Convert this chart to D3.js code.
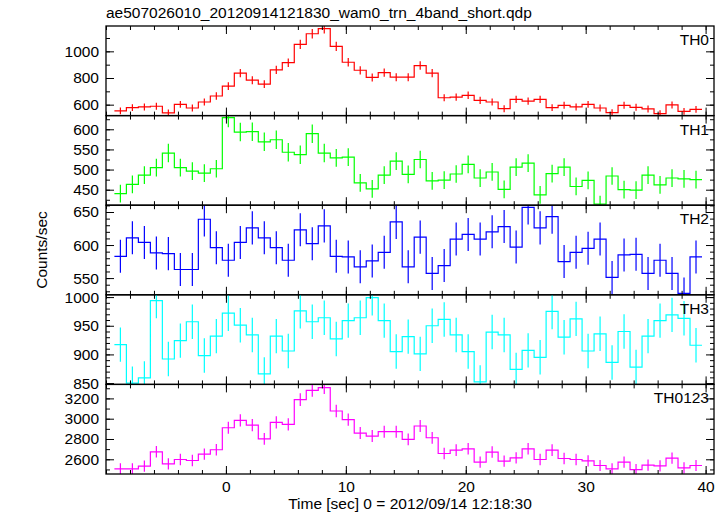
<!DOCTYPE html>
<html><head><meta charset="utf-8">
<script src="https://cdn.jsdelivr.net/npm/d3@7"></script>
<style>
body{margin:0;background:#fff}
svg{display:block}
text{font-family:"Liberation Sans",Arial,Helvetica,sans-serif;fill:#000}
</style>
</head><body>
<svg id="chart" width="728" height="516"></svg>
<script>
// ---- data ----
const title = "ae507026010_20120914121830_wam0_trn_4band_short.qdp";
const xLabel = "Time [sec] 0 = 2012/09/14 12:18:30";
const yLabel = "Counts/sec";
const panelNames = ["TH0","TH1","TH2","TH3","TH0123"];

const time = [-8.8,-7.8,-6.8,-5.8,-4.8,-3.8,-2.8,-1.8,-0.8,0.2,1.2,2.2,3.2,4.2,5.2,6.2,7.2,8.2,9.2,10.2,
  11.2,12.2,13.2,14.2,15.2,16.2,17.2,18.2,19.2,20.2,21.2,22.2,23.2,24.2,25.2,26.2,27.2,28.2,29.2,30.2,
  31.2,32.2,33.2,34.2,35.2,36.2,37.2,38.2,39.2];
const binHalfWidth = 0.5;

const th0 = [553,578,583,588,538,602,575,620,665,739,836,784,754,861,915,1052,1132,1171,1037,918,
  858,804,841,806,806,893,836,652,657,670,632,620,570,640,627,640,578,595,583,602,
  575,540,595,580,568,533,598,550,565];
const th0Err = [25,26,26,26,25,26,26,27,28,29,31,30,29,31,32,35,36,37,34,32,
  31,30,31,30,30,32,31,27,27,28,27,27,26,27,27,27,26,26,26,26,
  26,25,26,26,26,25,26,25,25];

const th1 = [440,463,486,505,541,505,496,491,502,629,593,594,569,574,543,537,589,541,529,531,
  467,452,486,521,488,525,472,474,489,513,479,494,451,506,516,437,490,506,458,473,
  414,484,450,449,486,462,479,477,475];
const th1Err = [22,22,22,22,23,22,22,22,22,24,23,23,23,23,23,23,23,23,22,22,
  22,22,22,22,22,22,22,22,22,22,22,22,22,22,22,22,22,22,22,22,
  21,22,22,22,22,22,22,22,22];

const th2 = [583,611,604,588,587,563,563,639,596,577,604,626,611,596,577,623,602,629,583,582,
  567,576,589,635,567,612,557,569,609,616,609,620,628,597,657,626,643,575,589,595,
  609,551,585,586,557,577,557,527,582];
const th2Err = [25,25,25,25,25,25,25,26,25,25,25,25,25,25,25,25,25,25,25,25,
  25,25,25,26,25,25,25,25,25,25,25,25,25,25,26,25,26,25,25,25,
  25,25,25,25,25,25,25,24,25];

const th3 = [917,850,859,994,892,924,957,898,932,972,951,934,866,932,906,976,957,964,927,959,
  964,999,959,905,931,901,950,961,934,905,852,939,934,874,907,895,975,930,962,906,
  936,886,940,878,932,959,969,963,916];
const th3Err = [30,29,29,31,30,30,30,30,30,31,30,30,29,30,30,31,30,30,30,30,
  30,31,30,30,30,30,30,30,30,30,29,30,30,29,30,30,31,30,30,30,
  30,30,30,30,30,30,30,30,30];

const th0123 = [2505,2506,2532,2674,2555,2598,2588,2651,2694,2911,2984,2937,2802,2964,2944,3188,3280,3306,3076,2990,
  2858,2829,2872,2872,2796,2928,2812,2657,2690,2703,2572,2671,2582,2614,2703,2598,2690,2608,2598,2585,
  2539,2506,2572,2499,2542,2535,2611,2516,2539];
const th0123Err = [55,55,55,57,56,56,56,56,57,59,60,60,58,60,60,62,63,63,61,60,
  59,59,59,59,58,60,58,57,57,57,56,57,56,56,57,56,57,56,56,56,
  55,55,56,55,55,55,56,55,55];

const xMajorTicks = [0,10,20,30,40];
const xMinorStep = 2;
const th0Ticks = [600,800,1000];
const th1Ticks = [450,500,550,600];
const th2Ticks = [550,600,650];
const th3Ticks = [850,900,950,1000];
const th0123Ticks = [2600,2800,3000,3200];

// ---- layout ----
const W = 728, H = 516;
const M = {left:106, right:714, top:26, bottom:474};
const xDomain = [-10, 40.7];
const panelH = (M.bottom - M.top) / 5;

const panels = [
  {name:panelNames[0], v:th0, e:th0Err, color:"#ff0000", domain:[518,1190], major:th0Ticks, minor:100},
  {name:panelNames[1], v:th1, e:th1Err, color:"#00ff00", domain:[411.5,634], major:th1Ticks, minor:25},
  {name:panelNames[2], v:th2, e:th2Err, color:"#0000ff", domain:[524.7,660.3], major:th2Ticks, minor:10},
  {name:panelNames[3], v:th3, e:th3Err, color:"#00ffff", domain:[847.7,1004], major:th3Ticks, minor:10},
  {name:panelNames[4], v:th0123, e:th0123Err, color:"#ff00ff", domain:[2455,3338], major:th0123Ticks, minor:100}
];

const svg = d3.select("#chart");
const x = d3.scaleLinear().domain(xDomain).range([M.left, M.right]);
const xMinor = d3.range(Math.ceil(xDomain[0]/xMinorStep)*xMinorStep, xDomain[1], xMinorStep);

svg.append("text").attr("x", M.left).attr("y", 18)
  .attr("font-size", "15.5px").text(title);

panels.forEach((p, i) => {
  const y0 = M.top + i*panelH, y1 = y0 + panelH;
  const y = d3.scaleLinear().domain(p.domain).range([y1, y0]);
  const g = svg.append("g");
  const clipId = "clip" + i;
  svg.append("clipPath").attr("id", clipId).append("rect")
    .attr("x", M.left).attr("y", y0).attr("width", M.right - M.left).attr("height", panelH);

  const dg = g.append("g").attr("clip-path", `url(#${clipId})`);
  const pts = [];
  time.forEach((t, k) => {
    pts.push([t - binHalfWidth, p.v[k]]);
    pts.push([t + binHalfWidth, p.v[k]]);
  });
  const line = d3.line().x(d => x(d[0])).y(d => y(d[1]));
  dg.append("path").attr("d", line(pts)).attr("fill", "none")
    .attr("stroke", p.color).attr("stroke-width", 1.2);
  dg.selectAll("line.err").data(time).enter().append("line")
    .attr("x1", t => x(t)).attr("x2", t => x(t))
    .attr("y1", (t, k) => y(p.v[k] - p.e[k]))
    .attr("y2", (t, k) => y(p.v[k] + p.e[k]))
    .attr("stroke", p.color).attr("stroke-width", 1.2);

  // y ticks
  const yMinor = d3.range(Math.ceil(p.domain[0]/p.minor)*p.minor, p.domain[1], p.minor);
  const axL = svg.append("g").attr("transform", `translate(${M.left},0)`)
    .call(d3.axisLeft(y).tickValues(yMinor).tickSize(-4).tickFormat(""));
  const axLM = svg.append("g").attr("transform", `translate(${M.left},0)`)
    .call(d3.axisLeft(y).tickValues(p.major).tickSize(-8).tickPadding(7).tickFormat(d3.format("d")));
  const axR = svg.append("g").attr("transform", `translate(${M.right},0)`)
    .call(d3.axisRight(y).tickValues(yMinor).tickSize(-4).tickFormat(""));
  const axRM = svg.append("g").attr("transform", `translate(${M.right},0)`)
    .call(d3.axisRight(y).tickValues(p.major).tickSize(-8).tickFormat(""));
  // x ticks
  const axT = svg.append("g").attr("transform", `translate(0,${y0})`)
    .call(d3.axisTop(x).tickValues(xMinor).tickSize(-4).tickFormat(""));
  const axTM = svg.append("g").attr("transform", `translate(0,${y0})`)
    .call(d3.axisTop(x).tickValues(xMajorTicks).tickSize(-8).tickFormat(""));
  const axB = svg.append("g").attr("transform", `translate(0,${y1})`)
    .call(d3.axisBottom(x).tickValues(xMinor).tickSize(-4).tickFormat(""));
  const axBM = svg.append("g").attr("transform", `translate(0,${y1})`)
    .call(d3.axisBottom(x).tickValues(xMajorTicks).tickSize(-8).tickPadding(7)
      .tickFormat(i === panels.length - 1 ? d3.format("d") : ""));
  [axL,axLM,axR,axRM,axT,axTM,axB,axBM].forEach(a => {
    a.select(".domain").remove();
    a.selectAll("line").attr("stroke", "#000").attr("stroke-width", 1);
    a.selectAll("text").attr("font-size", "15.5px").attr("font-family", "Liberation Sans, Arial, sans-serif").attr("fill", "#000");
  });

  svg.append("rect").attr("x", M.left).attr("y", y0).attr("width", M.right - M.left).attr("height", panelH)
    .attr("fill", "none").attr("stroke", "#000").attr("stroke-width", 1.3);

  svg.append("text").attr("x", M.right - 5).attr("y", y0 + 19).attr("text-anchor", "end")
    .attr("font-size", "15.5px").text(p.name);
});

svg.append("text").attr("x", (M.left + M.right)/2).attr("y", 509).attr("text-anchor", "middle")
  .attr("font-size", "15.5px").text(xLabel);
svg.append("text").attr("transform", `translate(47,${(M.top + M.bottom)/2}) rotate(-90)`)
  .attr("text-anchor", "middle").attr("font-size", "15.5px").text(yLabel);
</script>
</body></html>
